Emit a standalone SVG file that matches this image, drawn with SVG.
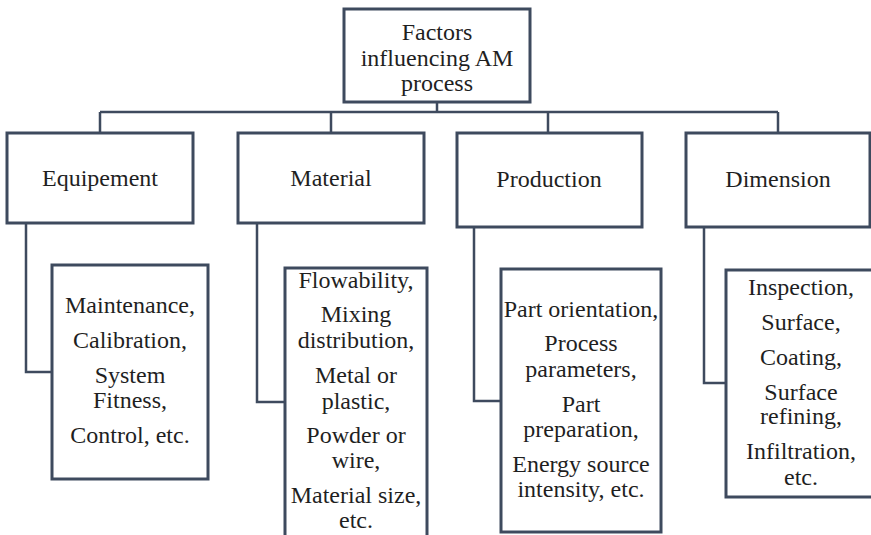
<svg xmlns="http://www.w3.org/2000/svg" width="871" height="535" viewBox="0 0 871 535">
  <defs>
    <style>
      .box { fill: #ffffff; stroke: #3e4a5e; stroke-width: 3; }
      .link { fill: none; stroke: #3e4a5e; stroke-width: 2.5; }
    </style>
  </defs>
  <rect width="871" height="535" fill="#ffffff"/>

  <!-- connectors: root bus and the elbow leads to each detail box -->
  <g id="connectors">
    <path class="link" d="M437 102 V112 M100 112 H778 M100 112 V133 M331 112 V133 M548 112 V133 M778 112 V133"/>
    <path class="link" d="M26 223 V372 H52"/>
    <path class="link" d="M257 223 V402 H285"/>
    <path class="link" d="M474 227 V401 H501"/>
    <path class="link" d="M704 227 V383 H726"/>
  </g>

  <g id="root">
    <rect class="box" x="344" y="9" width="186" height="93"/>
    <text x="437" y="40" font-family="Liberation Serif, serif" font-size="24" fill="#1f1f1f" text-anchor="middle">Factors</text>
    <text x="437" y="66" font-family="Liberation Serif, serif" font-size="24" fill="#1f1f1f" text-anchor="middle">influencing AM</text>
    <text x="437" y="91" font-family="Liberation Serif, serif" font-size="24" fill="#1f1f1f" text-anchor="middle">process</text>
  </g>

  <g id="equipement">
    <rect class="box" x="7" y="133" width="186" height="90"/>
    <text x="100" y="186" font-family="Liberation Serif, serif" font-size="24" fill="#1f1f1f" text-anchor="middle">Equipement</text>
  </g>
  <g id="material">
    <rect class="box" x="238" y="133" width="186" height="90"/>
    <text x="331" y="186" font-family="Liberation Serif, serif" font-size="24" fill="#1f1f1f" text-anchor="middle">Material</text>
  </g>
  <g id="production">
    <rect class="box" x="457" y="133" width="185" height="94"/>
    <text x="549" y="187" font-family="Liberation Serif, serif" font-size="24" fill="#1f1f1f" text-anchor="middle">Production</text>
  </g>
  <g id="dimension">
    <rect class="box" x="686" y="133" width="184" height="94"/>
    <text x="778" y="187" font-family="Liberation Serif, serif" font-size="24" fill="#1f1f1f" text-anchor="middle">Dimension</text>
  </g>

  <g id="equipement-details">
    <rect class="box" x="52" y="265" width="156" height="214"/>
    <text x="130" y="313" font-family="Liberation Serif, serif" font-size="24" fill="#1f1f1f" text-anchor="middle">Maintenance,</text>
    <text x="130" y="348" font-family="Liberation Serif, serif" font-size="24" fill="#1f1f1f" text-anchor="middle">Calibration,</text>
    <text x="130" y="383" font-family="Liberation Serif, serif" font-size="24" fill="#1f1f1f" text-anchor="middle">System</text>
    <text x="130" y="408" font-family="Liberation Serif, serif" font-size="24" fill="#1f1f1f" text-anchor="middle">Fitness,</text>
    <text x="130" y="443" font-family="Liberation Serif, serif" font-size="24" fill="#1f1f1f" text-anchor="middle">Control, etc.</text>
  </g>

  <g id="material-details">
    <rect class="box" x="285" y="268" width="142" height="275"/>
    <text x="356" y="288" font-family="Liberation Serif, serif" font-size="24" fill="#1f1f1f" text-anchor="middle">Flowability,</text>
    <text x="356" y="322" font-family="Liberation Serif, serif" font-size="24" fill="#1f1f1f" text-anchor="middle">Mixing</text>
    <text x="356" y="348" font-family="Liberation Serif, serif" font-size="24" fill="#1f1f1f" text-anchor="middle">distribution,</text>
    <text x="356" y="383" font-family="Liberation Serif, serif" font-size="24" fill="#1f1f1f" text-anchor="middle">Metal or</text>
    <text x="356" y="409" font-family="Liberation Serif, serif" font-size="24" fill="#1f1f1f" text-anchor="middle">plastic,</text>
    <text x="356" y="443" font-family="Liberation Serif, serif" font-size="24" fill="#1f1f1f" text-anchor="middle">Powder or</text>
    <text x="356" y="468" font-family="Liberation Serif, serif" font-size="24" fill="#1f1f1f" text-anchor="middle">wire,</text>
    <text x="356" y="503" font-family="Liberation Serif, serif" font-size="24" fill="#1f1f1f" text-anchor="middle">Material size,</text>
    <text x="356" y="528" font-family="Liberation Serif, serif" font-size="24" fill="#1f1f1f" text-anchor="middle">etc.</text>
  </g>

  <g id="production-details">
    <rect class="box" x="501" y="269" width="160" height="263"/>
    <text x="581" y="317" font-family="Liberation Serif, serif" font-size="24" fill="#1f1f1f" text-anchor="middle">Part orientation,</text>
    <text x="581" y="351" font-family="Liberation Serif, serif" font-size="24" fill="#1f1f1f" text-anchor="middle">Process</text>
    <text x="581" y="377" font-family="Liberation Serif, serif" font-size="24" fill="#1f1f1f" text-anchor="middle">parameters,</text>
    <text x="581" y="412" font-family="Liberation Serif, serif" font-size="24" fill="#1f1f1f" text-anchor="middle">Part</text>
    <text x="581" y="437" font-family="Liberation Serif, serif" font-size="24" fill="#1f1f1f" text-anchor="middle">preparation,</text>
    <text x="581" y="472" font-family="Liberation Serif, serif" font-size="24" fill="#1f1f1f" text-anchor="middle">Energy source</text>
    <text x="581" y="497" font-family="Liberation Serif, serif" font-size="24" fill="#1f1f1f" text-anchor="middle">intensity, etc.</text>
  </g>

  <g id="dimension-details">
    <rect class="box" x="726" y="270" width="150" height="227"/>
    <text x="801" y="295" font-family="Liberation Serif, serif" font-size="24" fill="#1f1f1f" text-anchor="middle">Inspection,</text>
    <text x="801" y="330" font-family="Liberation Serif, serif" font-size="24" fill="#1f1f1f" text-anchor="middle">Surface,</text>
    <text x="801" y="365" font-family="Liberation Serif, serif" font-size="24" fill="#1f1f1f" text-anchor="middle">Coating,</text>
    <text x="801" y="400" font-family="Liberation Serif, serif" font-size="24" fill="#1f1f1f" text-anchor="middle">Surface</text>
    <text x="801" y="424" font-family="Liberation Serif, serif" font-size="24" fill="#1f1f1f" text-anchor="middle">refining,</text>
    <text x="801" y="459" font-family="Liberation Serif, serif" font-size="24" fill="#1f1f1f" text-anchor="middle">Infiltration,</text>
    <text x="801" y="485" font-family="Liberation Serif, serif" font-size="24" fill="#1f1f1f" text-anchor="middle">etc.</text>
  </g>
</svg>
